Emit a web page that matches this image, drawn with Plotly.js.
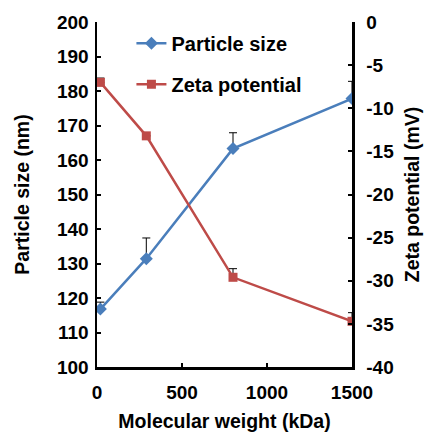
<!DOCTYPE html>
<html><head><meta charset="utf-8">
<script src="https://cdn.plot.ly/plotly-3.0.1.min.js"></script>
<style>html,body{margin:0;padding:0;background:#fff}#c{width:427px;height:432px}</style>
</head><body><div id="c"></div>
<script>
const mw = [20, 290, 800, 1500];
const particleSize = [116.8, 131.4, 163.3, 177.8];
const particleErr = [2.0, 6.0, 4.6, 5.0];
const zeta = [-7.0, -13.2, -29.6, -34.7];
const zetaErr = [0.5, 0, 1.0, 1.0];
const xTicks = [0, 500, 1000, 1500];
const yTicks = [100, 110, 120, 130, 140, 150, 160, 170, 180, 190, 200];
const y2Ticks = [-40, -35, -30, -25, -20, -15, -10, -5, 0];
const y2Labels = y2Ticks.map(v => String(v).replace('\u2212', '-'));

const F = 'Liberation Sans, Arial, sans-serif';
const blue = '#4a7ebb', red = '#be4b48';

const traces = [
  {x: mw, y: particleSize, name: 'Particle size', type: 'scatter', mode: 'lines+markers',
   line: {color: blue, width: 2.5}, marker: {symbol: 'diamond', size: 10, color: blue},
   legendgroup: 'a',
   error_y: {type: 'data', symmetric: false, array: particleErr, arrayminus: particleErr.map(()=>0), color: '#000', thickness: 1, width: 4}},
  {x: mw, y: zeta, name: 'Zeta potential', type: 'scatter', mode: 'lines+markers', yaxis: 'y2',
   line: {color: red, width: 2.5}, marker: {symbol: 'square', size: 9, color: red},
   legendgroup: 'b',
   error_y: {type: 'data', symmetric: false, array: zetaErr, arrayminus: zetaErr.map(()=>0), color: '#000', thickness: 1, width: 4}}
];

const axFont = {family: F, size: 19, color: '#000', weight: 'bold'};
const titleFont = {family: F, size: 19.5, color: '#000', weight: 'bold'};

const layout = {
  width: 427, height: 432,
  margin: {l: 97, r: 75, t: 22, b: 65},
  paper_bgcolor: '#fff', plot_bgcolor: '#fff',
  showlegend: true,
  legend: {x: 0.135, y: 0.995, xanchor: 'left', yanchor: 'top', bgcolor: 'rgba(0,0,0,0)',
    font: {family: F, size: 20, color: '#000', weight: 'bold'}, traceorder: 'grouped', tracegroupgap: 12},
  xaxis: {range: [0, 1500], tickvals: xTicks, ticks: 'inside', ticklen: 4, tickwidth: 2, tickcolor: '#000',
    ticklabelstandoff: 7,
    showline: true, linecolor: '#000', linewidth: 2.5, showgrid: false, zeroline: false,
    tickfont: axFont, title: {text: 'Molecular weight (kDa)', font: titleFont, standoff: 12}},
  yaxis: {range: [100, 200], tickvals: yTicks, ticks: 'inside', ticklen: 4, tickwidth: 2, tickcolor: '#000',
    ticklabelstandoff: 2,
    showline: true, linecolor: '#000', linewidth: 2.5, showgrid: false, zeroline: false,
    tickfont: axFont, title: {text: 'Particle size (nm)', font: titleFont, standoff: 22}},
  yaxis2: {range: [-40, 0], overlaying: 'y', side: 'right', tickvals: y2Ticks, ticktext: y2Labels,
    ticks: 'inside', ticklen: 4, tickwidth: 2, tickcolor: '#000',
    ticklabelstandoff: 8,
    showline: true, linecolor: '#000', linewidth: 2.5, showgrid: false, zeroline: false,
    tickfont: axFont, title: {text: 'Zeta potential (mV)', font: titleFont, standoff: 12}}
};

Plotly.newPlot('c', traces, layout, {displayModeBar: false, staticPlot: true});
</script></body></html>
